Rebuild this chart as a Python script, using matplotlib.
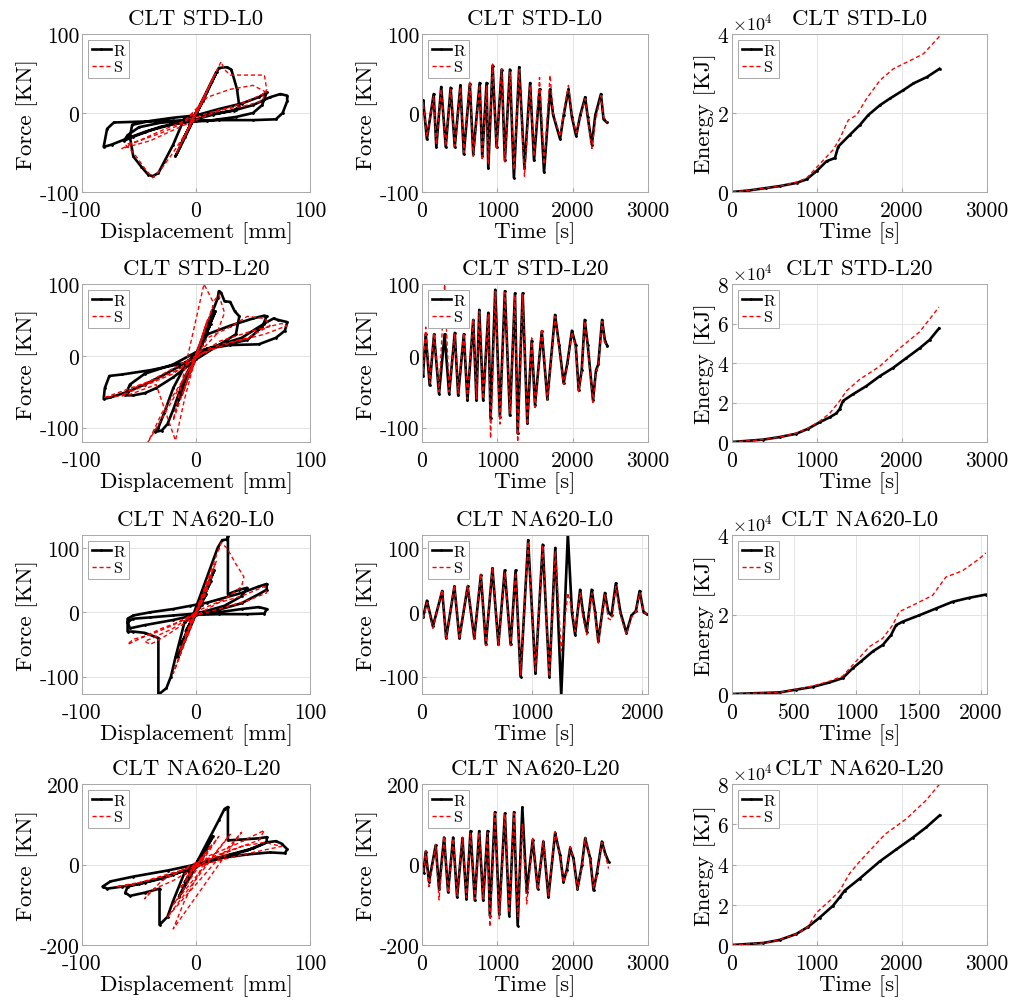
import numpy as np
import matplotlib.pyplot as plt
from matplotlib.ticker import ScalarFormatter
import warnings

warnings.filterwarnings('ignore')

# フォント設定（LaTeX風）
plt.rcParams['font.family'] = ['cmr10', 'DejaVu Serif']
plt.rcParams['axes.unicode_minus'] = False
plt.rcParams['mathtext.fontset'] = 'cm'

titles = ['CLT STD-L0', 'CLT STD-L20', 'CLT NA620-L0', 'CLT NA620-L20']

# --- ヒステリシス (変位 [mm], 力 [KN]) ---
std_l0_hyst_R = [(0, 0), (6, 15), (-6, -16), (10, 28), (-10, -30), (14, 40), (-14, -42), (18, 52), (-18, -55),
                 (20, 57), (27, 58), (31, 55), (36, 30), (38, 8), (33, 3), (20, 0), (5, -2), (-10, -6),
                 (-20, -40), (-28, -62), (-33, -76), (-38, -80), (-42, -78), (-48, -68), (-55, -55), (-58, -30),
                 (-56, -15), (-40, -10), (-20, -6), (0, -3),
                 (20, 5), (40, 12), (55, 20), (62, 26), (58, 10), (50, 0), (35, -5), (10, -10), (-10, -11),
                 (-30, -12), (-50, -18), (-60, -28), (-63, -35), (-55, -30), (-40, -22), (-20, -14), (0, -10),
                 (20, -9), (50, -9), (70, -8), (76, 0), (80, 15), (80, 22), (74, 24), (65, 20), (50, 10), (35, 4),
                 (15, -2), (0, -8), (-20, -10), (-50, -11), (-72, -12), (-78, -20), (-81, -43), (-74, -40),
                 (-60, -32), (-45, -24), (-30, -17), (-10, -12)]
std_l0_hyst_S = [(0, 0), (8, 22), (-8, -22), (12, 35), (-12, -35), (17, 50), (-17, -50), (22, 65), (25, 55),
                 (30, 48), (45, 48), (60, 48), (62, 30), (58, 15), (40, 8), (20, 4), (0, -5), (-20, -50),
                 (-30, -70), (-38, -82), (-45, -70), (-55, -50), (-62, -40), (-50, -35), (-30, -22), (-10, -10),
                 (10, 20), (30, 30), (50, 35), (62, 26), (40, 12), (15, 0), (-10, -15), (-40, -35), (-65, -45),
                 (-55, -38), (-30, -25), (-10, -12), (5, 10), (-5, -10), (0, 0)]

std_l20_hyst_R = [(0, 0), (5, 15), (-5, -15), (9, 30), (-9, -32), (13, 45), (-13, -48), (17, 62), (-17, -68),
                  (19, 80), (20, 90), (22, 88), (25, 76), (30, 75), (34, 62), (38, 55), (35, 30), (20, 15), (0, 5),
                  (-10, -15), (-20, -45), (-28, -80), (-33, -100), (-36, -106), (-30, -104), (-25, -95),
                  (-20, -75), (-10, -30), (0, 0), (10, 30), (30, 42), (50, 52), (60, 56), (62, 55), (58, 40),
                  (45, 22), (20, 14), (0, 5), (-20, -12), (-45, -25), (-58, -40), (-62, -55), (-55, -55),
                  (-45, -52), (-35, -45), (-20, -30), (0, -5), (20, 15), (40, 25), (60, 45), (68, 52), (72, 50),
                  (80, 47), (78, 35), (70, 25), (55, 16), (30, 15), (10, 10), (-10, -10), (-40, -20), (-65, -26),
                  (-76, -28), (-80, -45), (-81, -60), (-75, -58), (-60, -50), (-45, -40), (-30, -28), (-15, -15),
                  (0, 0)]
std_l20_hyst_S = [(0, 0), (6, 28), (-6, -30), (10, 50), (-12, -55), (15, 70), (-20, -90), (7, 100), (15, 75),
                  (20, 85), (25, 60), (18, 30), (0, 0), (-20, -60), (-42, -120), (-30, -80), (-10, -30), (10, 25),
                  (30, 40), (45, 55), (60, 52), (65, 42), (45, 25), (20, 15), (0, -2), (-20, -25), (-50, -45),
                  (-65, -55), (-55, -45), (-30, -30), (-10, -15), (20, 20), (50, 35), (75, 45), (80, 42), (60, 30),
                  (30, 18), (0, 0), (-40, -35), (-80, -58), (-60, -55), (-35, -40), (-18, -118), (-10, -60), (0, 0)]

na_l0_hyst_R = [(0, 0), (5, 12), (-5, -14), (9, 28), (-9, -30), (13, 48), (-13, -50), (16, 65), (-16, -70),
                (19, 100), (23, 112), (27, 113), (28, 118), (28, 28), (38, 35), (45, 38), (40, 25), (25, 10),
                (5, 0), (-10, -15), (-18, -70), (-22, -100), (-26, -118), (-33, -128), (-33, -40), (-45, -32),
                (-55, -30), (-60, -30), (-60, -10), (-55, -5), (-40, 0), (-20, 5), (-5, 10), (10, 15), (20, 20),
                (40, 30), (55, 40), (62, 44), (62, 35), (55, 28), (40, 14), (20, 4), (0, -2), (-20, -5),
                (-40, -8), (-55, -10), (-60, -15), (-58, -25), (-45, -20), (-20, -12), (0, -4), (20, -3),
                (45, -3), (60, -2), (62, 5), (55, 8), (40, 5), (20, 0), (0, 0)]
na_l0_hyst_S = [(0, 0), (6, 18), (-6, -18), (10, 35), (-10, -38), (14, 55), (-14, -60), (18, 80), (-20, -95),
                (22, 108), (27, 100), (35, 75), (42, 55), (40, 40), (25, 20), (5, 5), (-20, -25), (-38, -40),
                (-45, -45), (-40, -50), (-25, -35), (0, -5), (20, 15), (40, 25), (60, 40), (62, 30), (45, 18),
                (20, 5), (0, -5), (-30, -25), (-60, -50), (-55, -42), (-40, -35), (-20, -20), (0, 0)]

na_l20_hyst_R = [(0, 0), (6, 20), (-6, -22), (10, 40), (-10, -45), (15, 70), (-15, -80), (20, 110), (25, 138),
                 (28, 143), (28, 60), (40, 62), (55, 65), (62, 68), (62, 55), (50, 40), (30, 25), (10, 10),
                 (-10, -20), (-20, -90), (-25, -130), (-32, -150), (-32, -60), (-45, -70), (-58, -78), (-62, -70),
                 (-60, -55), (-45, -45), (-20, -25), (0, -5), (20, 15), (45, 35), (62, 55), (70, 58), (75, 52),
                 (80, 38), (78, 28), (65, 30), (45, 25), (20, 15), (0, 0), (-25, -15), (-55, -30), (-75, -42),
                 (-82, -55), (-78, -60), (-65, -55), (-50, -48), (-30, -35), (-10, -15), (0, 0)]
na_l20_hyst_S = [(0, 0), (8, 25), (-8, -30), (14, 50), (-14, -60), (20, 70), (-20, -100), (30, 75), (-25, -130),
                 (40, 80), (-20, -160), (-10, -90), (10, 20), (35, 50), (60, 85), (55, 60), (30, 35), (0, 5),
                 (-30, -40), (-45, -85), (-40, -65), (-20, -40), (10, 10), (40, 45), (60, 55), (75, 45), (50, 30),
                 (20, 10), (-20, -20), (-55, -50), (-70, -55), (-50, -45), (-20, -25), (0, 0)]

# --- 時刻歴 (時間 [s], 力 [KN]) ---
std_l0_time = [0, 15, 65, 155, 190, 255, 315, 380, 435, 510, 555, 635, 680, 765, 800, 857, 880, 937, 990, 1057,
               1100, 1167, 1220, 1290, 1360, 1435, 1487, 1560, 1620, 1700, 1740, 1833, 1880, 1944, 1990, 2046,
               2100, 2166, 2200, 2255, 2300, 2375, 2410, 2455]
std_l0_force_R = [0, 16, -33, 24, -43, 33, -43, 32, -43, 35, -52, 37, -52, 38, -55, 38, -70, 60, -43, 55,
                  -60, 55, -82, 58, -70, 38, -60, 30, -75, 30, -2, -33, -3, 30, -5, -29, -3, 20, -5, -40,
                  -3, 24, -8, -12]
std_l0_force_S = [0, 14, -30, 22, -40, 30, -42, 30, -42, 33, -50, 40, -55, 36, -60, 35, -65, 62, -45, 56,
                  -62, 52, -72, 55, -80, 35, -55, 45, -65, 48, 0, -30, 0, 35, -3, -25, -5, 18, -5, -45,
                  -10, 22, -5, -12]

std_l20_time = [0, 13, 49, 102, 160, 226, 300, 360, 435, 480, 555, 603, 680, 723, 760, 812, 880, 910, 972, 1034,
                1100, 1167, 1234, 1270, 1336, 1398, 1456, 1500, 1590, 1664, 1766, 1820, 1880, 1930, 1990, 2040,
                2080, 2120, 2160, 2200, 2270, 2310, 2340, 2390, 2430, 2460]
std_l20_force_R = [0, -28, 30, -41, 30, -53, 30, -53, 32, -55, 30, -62, 50, -62, 64, -62, 60, -87, 92, -85,
                   90, -83, 87, -108, 87, -94, 21, -69, 34, -60, 57, 15, -38, -10, 35, 15, -48, -20, 50, 15,
                   -62, -20, -12, 50, 20, 14]
std_l20_force_S = [0, -25, 40, -38, 32, -50, 100, -50, 30, -52, 32, -60, 52, -60, 62, -60, 58, -115, 90, -95,
                   88, -80, 85, -120, 85, -96, 25, -72, 38, -62, 55, 12, -40, -12, 33, 12, -50, -22, 48, 12,
                   -65, -22, -15, 48, 18, 14]

na_l0_time = [0, 9, 45, 99, 183, 219, 294, 339, 414, 474, 534, 579, 639, 693, 750, 804, 849, 894, 963, 1029,
              1095, 1155, 1209, 1263, 1323, 1360, 1389, 1434, 1460, 1494, 1539, 1570, 1599, 1659, 1690, 1719,
              1758, 1800, 1854, 1900, 1940, 1974, 2010, 2040]
na_l0_force_R = [0, -8, 18, -22, 33, -40, 40, -40, 40, -40, 58, -50, 68, -50, 65, -50, 65, -100, 112, -95,
                 105, -100, 100, -130, 122, 0, -35, 35, 0, -30, 35, 0, -45, 30, 0, -5, 45, 0, -32, -5,
                 2, 33, 0, -3]
na_l0_force_S = [0, -10, 15, -25, 35, -42, 42, -42, 42, -42, 60, -52, 70, -52, 62, -52, 62, -97, 110, -93,
                 104, -100, 95, -60, 30, 5, -30, 30, -8, -35, 30, -5, -48, 28, -10, -12, 40, -5, -35, -8,
                 0, 30, 0, -3]

na_l20_time = [0, 20, 49, 93, 182, 226, 293, 346, 413, 466, 537, 590, 644, 701, 759, 812, 870, 901, 968, 1025,
               1100, 1158, 1221, 1270, 1332, 1390, 1470, 1536, 1611, 1678, 1767, 1833, 1878, 1922, 1966, 2011,
               2064, 2122, 2166, 2233, 2277, 2321, 2388, 2432, 2477]
na_l20_force_R = [0, -20, 32, -43, 48, -60, 67, -68, 67, -81, 65, -85, 83, -89, 83, -89, 83, -127, 130, -122,
                  127, -127, 130, -152, 142, -68, 61, -60, 57, -81, 78, 23, -43, -14, 40, 15, -60, -2, 65, 15,
                  -64, -22, 57, 27, 7]
na_l20_force_S = [0, -18, 35, -55, 50, -88, 70, -70, 65, -78, 68, -82, 80, -86, 80, -86, 80, -155, 128, -135,
                  125, -120, 128, -130, 100, -98, 65, -62, 60, -78, 82, 20, -45, -18, 45, 12, -62, -5, 68, 12,
                  -60, -25, 55, 25, -10]

# --- エネルギー (時間 [s], エネルギー [KJ]) ---
std_l0_energy_R_t = [0, 200, 400, 562, 759, 877, 995, 1113, 1211, 1250, 1388, 1506, 1604, 1742, 1860, 2017,
                     2135, 2293, 2442]
std_l0_energy_R = [0, 400, 1000, 1500, 2300, 3200, 5300, 7800, 8600, 11500, 14500, 17000, 19500, 22000, 23700,
                   25800, 27500, 29100, 31200]
std_l0_energy_S_t = [0, 200, 400, 562, 759, 877, 1007, 1190, 1270, 1368, 1467, 1585, 1742, 1899, 2135, 2253,
                     2450]
std_l0_energy_S = [0, 400, 1000, 1500, 2500, 3500, 6500, 10700, 13600, 18200, 19500, 23700, 28300, 31200,
                   33700, 35000, 39600]

std_l20_energy_R_t = [0, 365, 560, 757, 894, 1031, 1149, 1227, 1267, 1306, 1424, 1580, 1737, 1894, 2051, 2208,
                      2325, 2435]
std_l20_energy_R = [0, 1200, 2500, 4200, 6700, 10000, 12500, 14500, 16700, 20800, 24200, 28300, 33300, 37500,
                    42500, 47500, 51700, 57500]
std_l20_energy_S_t = [0, 365, 560, 757, 894, 1031, 1149, 1267, 1345, 1502, 1737, 1973, 2208, 2435]
std_l20_energy_S = [0, 1200, 2500, 4500, 7000, 10500, 14500, 20800, 25800, 31700, 38300, 47500, 55800, 68300]

na_l0_energy_R_t = [0, 382, 516, 650, 783, 890, 971, 1037, 1131, 1211, 1278, 1318, 1372, 1505, 1639, 1773,
                    1906, 2040]
na_l0_energy_R = [0, 400, 1100, 1800, 2900, 4000, 6500, 8200, 10700, 12300, 14800, 17300, 18200, 19800, 21500,
                  23200, 24200, 25000]
na_l0_energy_S_t = [0, 382, 516, 650, 783, 890, 997, 1104, 1211, 1291, 1345, 1452, 1612, 1719, 1853, 1987,
                    2040]
na_l0_energy_S = [0, 400, 1200, 2000, 3200, 4500, 8200, 11900, 14000, 17300, 20700, 22300, 24800, 29400, 31000,
                  34000, 35500]

na_l20_energy_R_t = [0, 365, 560, 757, 894, 1031, 1188, 1267, 1325, 1502, 1737, 1933, 2129, 2286, 2443]
na_l20_energy_R = [0, 1000, 2500, 5500, 9000, 13600, 19500, 23700, 27000, 33000, 41500, 47500, 53400, 58500,
                   64400]
na_l20_energy_S_t = [0, 365, 560, 757, 894, 992, 1149, 1267, 1384, 1502, 1800, 2051, 2286, 2443]
na_l20_energy_S = [0, 1000, 2500, 5500, 9000, 16000, 22000, 27000, 35600, 41500, 55000, 62700, 72000, 80000]

hyst_R = [std_l0_hyst_R, std_l20_hyst_R, na_l0_hyst_R, na_l20_hyst_R]
hyst_S = [std_l0_hyst_S, std_l20_hyst_S, na_l0_hyst_S, na_l20_hyst_S]
time_t = [std_l0_time, std_l20_time, na_l0_time, na_l20_time]
time_R = [std_l0_force_R, std_l20_force_R, na_l0_force_R, na_l20_force_R]
time_S = [std_l0_force_S, std_l20_force_S, na_l0_force_S, na_l20_force_S]
energy_R = [(std_l0_energy_R_t, std_l0_energy_R), (std_l20_energy_R_t, std_l20_energy_R),
            (na_l0_energy_R_t, na_l0_energy_R), (na_l20_energy_R_t, na_l20_energy_R)]
energy_S = [(std_l0_energy_S_t, std_l0_energy_S), (std_l20_energy_S_t, std_l20_energy_S),
            (na_l0_energy_S_t, na_l0_energy_S), (na_l20_energy_S_t, na_l20_energy_S)]

force_ylim = [(-100, 100), (-120, 100), (-127, 120), (-200, 200)]
force_ticks = [[-100, 0, 100], [-100, 0, 100], [-100, 0, 100], [-200, 0, 200]]
time_xlim = [(0, 3000), (0, 3000), (0, 2050), (0, 3000)]
time_ticks = [[0, 1000, 2000, 3000], [0, 1000, 2000, 3000], [0, 1000, 2000], [0, 1000, 2000, 3000]]
energy_xticks = [[0, 1000, 2000, 3000], [0, 1000, 2000, 3000], [0, 500, 1000, 1500, 2000],
                 [0, 1000, 2000, 3000]]
energy_ylim = [40000, 80000, 40000, 80000]
energy_yticks = [[0, 20000, 40000], [0, 20000, 40000, 60000, 80000], [0, 20000, 40000],
                 [0, 20000, 40000, 60000, 80000]]

# レイアウト（ピクセル）
W, H = 1012, 1003
fig = plt.figure(figsize=(W / 100, H / 100), dpi=100)
col_x = [(82, 310), (422, 648), (732, 987)]
row_y = [(35, 193), (285, 443), (536, 695), (785, 946)]

FS = 15.5
GRAY = '#a8a8a8'


def make_ax(c, r):
    l, rr = col_x[c]
    t, b = row_y[r]
    ax = fig.add_axes([l / W, 1 - b / H, (rr - l) / W, (b - t) / H])
    ax.grid(True, color='#e4e4e4', lw=0.7)
    ax.set_axisbelow(True)
    for s in ax.spines.values():
        s.set_color(GRAY)
        s.set_linewidth(0.7)
    ax.tick_params(direction='in', length=3, color=GRAY, labelsize=FS, pad=2)
    ax.tick_params(axis='x', pad=6)
    return ax


def draw_R_S(ax, xr, yr, xs, ys):
    ax.plot(xr, yr, '-', color='black', lw=1.9, marker='.', ms=2, label='R')
    ax.plot(xs, ys, '--', color='red', lw=1.0, dashes=(3, 2), label='S')
    leg = ax.legend(loc='upper left', fontsize=11.5, handlelength=1.2, handletextpad=0.15, borderpad=0.25,
                    labelspacing=0.15, borderaxespad=0.35, fancybox=False, framealpha=1)
    leg.get_frame().set_edgecolor(GRAY)
    leg.get_frame().set_linewidth(0.7)


def labels(ax, r, xlabel, ylabel):
    ax.set_title(titles[r], fontsize=16.5, pad=7)
    ax.set_xlabel(xlabel, fontsize=16.5, labelpad=1)
    ax.set_ylabel(ylabel, fontsize=16.5, labelpad=1)


for r in range(4):
    # ヒステリシス
    ax = make_ax(0, r)
    dR, fR = np.array(hyst_R[r]).T
    dS, fS = np.array(hyst_S[r]).T
    draw_R_S(ax, dR, fR, dS, fS)
    ax.set_xlim(-100, 100)
    ax.set_ylim(*force_ylim[r])
    ax.set_xticks([-100, 0, 100])
    ax.set_yticks(force_ticks[r])
    labels(ax, r, 'Displacement [mm]', 'Force [KN]')

    # 時刻歴
    ax = make_ax(1, r)
    draw_R_S(ax, time_t[r], time_R[r], time_t[r], time_S[r])
    ax.set_xlim(*time_xlim[r])
    ax.set_ylim(*force_ylim[r])
    ax.set_xticks(time_ticks[r])
    ax.set_yticks(force_ticks[r])
    labels(ax, r, 'Time [s]', 'Force [KN]')

    # エネルギー
    ax = make_ax(2, r)
    draw_R_S(ax, energy_R[r][0], energy_R[r][1], energy_S[r][0], energy_S[r][1])
    ax.set_xlim(*time_xlim[r])
    ax.set_ylim(0, energy_ylim[r])
    ax.set_xticks(energy_xticks[r])
    ax.set_yticks(energy_yticks[r])
    fmt = ScalarFormatter(useMathText=True)
    fmt.set_powerlimits((0, 0))
    ax.yaxis.set_major_formatter(fmt)
    ax.yaxis.get_offset_text().set_fontsize(13)
    labels(ax, r, 'Time [s]', 'Energy [KJ]')

plt.savefig('out.png', dpi=100)
